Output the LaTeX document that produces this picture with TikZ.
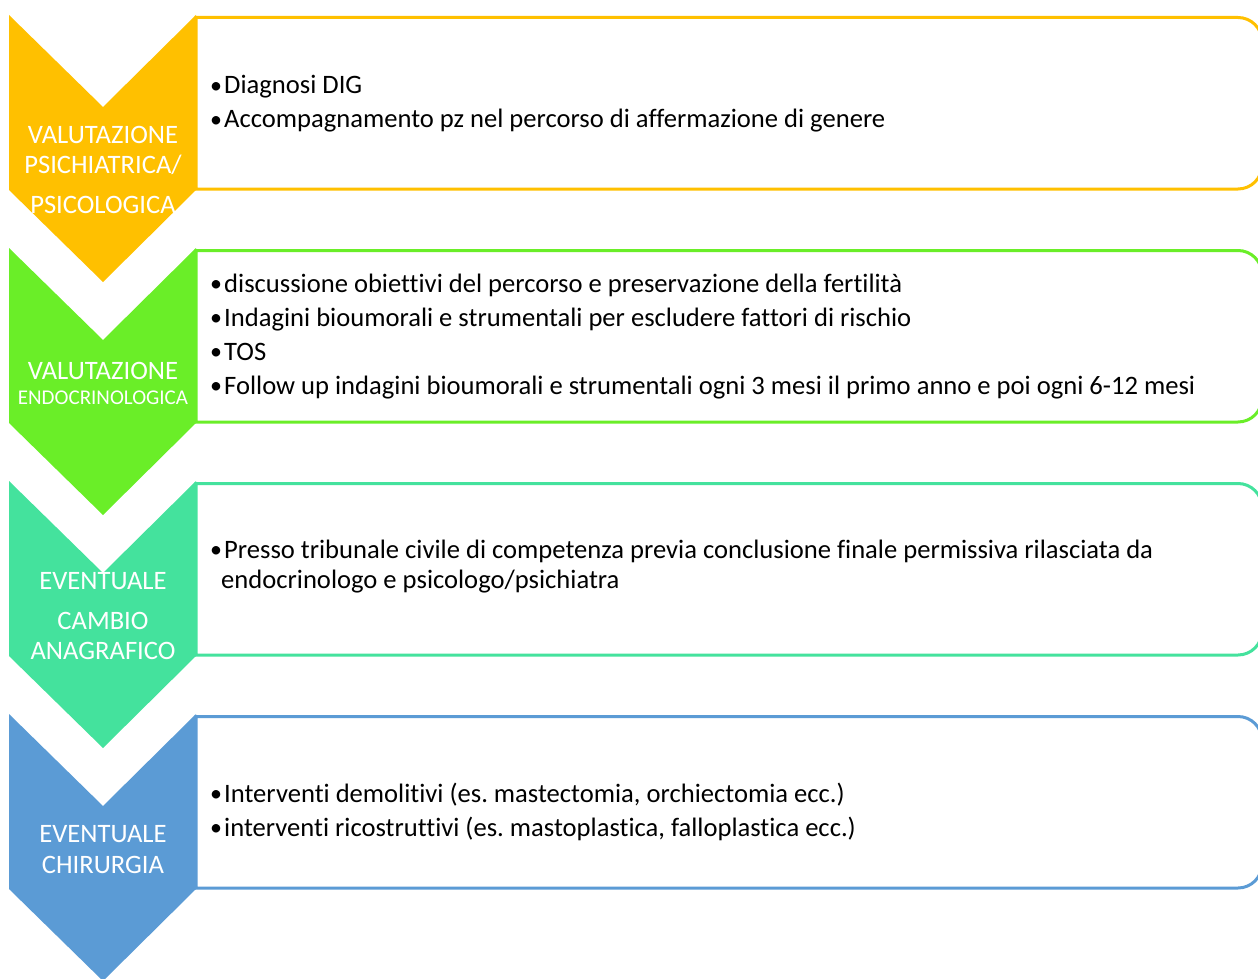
\documentclass[tikz,border=0pt]{standalone}
\usepackage{fontspec}
\setmainfont{Carlito}[Ligatures={NoCommon}]
\definecolor{corange}{HTML}{FFC000}
\definecolor{cgreen}{HTML}{6AEE28}
\definecolor{cteal}{HTML}{44E29D}
\definecolor{cblue}{HTML}{5B9BD5}
\newcommand{\bul}{\makebox[14pt][l]{\raisebox{0.5pt}{\fontsize{24}{28}\selectfont •}}}
\frenchspacing
\tikzset{
  txt/.style={anchor=base west, inner sep=0pt, text=black, font=\fontsize{26.6}{32}\selectfont},
  lbl/.style={anchor=base, inner sep=0pt, text=white, font=\fontsize{26.6}{32}\selectfont},
  lblsmall/.style={anchor=base, inner sep=0pt, text=white, font=\fontsize{21}{26}\selectfont},
  boxline/.style={line width=3pt},
}
\begin{document}
\begin{tikzpicture}[x=1pt,y=-1pt]
\useasboundingbox (0,0) rectangle (1258,979);
\clip (0,0) rectangle (1258,979);
% boxes
\foreach \yy/\cc in {15/corange,248/cgreen,481/cteal,714/cblue}{
  \draw[boxline,draw=\cc,fill=white] (196,\yy+2.5) -- (1238,\yy+2.5)
     arc[start angle=-90,end angle=0,radius=24] -- (1262,\yy+150)
     arc[start angle=0,end angle=90,radius=24] -- (196,\yy+174) -- cycle;
}
% chevrons
\foreach \yy/\cc in {15/corange,248/cgreen,481/cteal,714/cblue}{
  \fill[\cc] (9,\yy) -- (103,\yy+92) -- (196,\yy) -- (196,\yy+175) -- (103,\yy+267) -- (9,\yy+175) -- cycle;
}
% chevron labels
\node[lbl] (c1a) at (103,143) {VALUTAZIONE};
\node[lbl] (c1b) at (103,173) {PSICHIATRICA/};
\node[lbl] (c1c) at (103,213) {PSICOLOGICA};
\node[lbl] (c2a) at (103,379) {VALUTAZIONE};
\node[lblsmall] (c2b) at (103,404) {ENDOCRINOLOGICA};
\node[lbl] (c3a) at (103,589) {EVENTUALE};
\node[lbl] (c3b) at (103,629) {CAMBIO};
\node[lbl] (c3c) at (103,659) {ANAGRAFICO};
\node[lbl] (c4a) at (103,842) {EVENTUALE};
\node[lbl] (c4b) at (103,873) {CHIRURGIA};
% box texts
\node[txt] (t1a) at (210,94) {\bul Diagnosi DIG};
\node[txt] (t1b) at (210,128) {\bul Accompagnamento pz nel percorso di affermazione di genere};
\node[txt] (t2a) at (210,292) {\bul discussione obiettivi del percorso e preservazione della fertilità};
\node[txt] (t2b) at (210,326) {\bul Indagini bioumorali e strumentali per escludere fattori di rischio};
\node[txt] (t2c) at (210,360) {\bul TOS};
\node[txt] (t2d) at (210,394) {\bul Follow up indagini bioumorali e strumentali ogni 3 mesi il primo anno e poi ogni 6-12 mesi};
\node[txt] (t3a) at (210,558) {\bul Presso tribunale civile di competenza previa conclusione finale permissiva rilasciata da};
\node[txt] (t3b) at (221,588) {endocrinologo e psicologo/psichiatra};
\node[txt] (t4a) at (210,802) {\bul Interventi demolitivi (es. mastectomia, orchiectomia ecc.)};
\node[txt] (t4b) at (210,836) {\bul interventi ricostruttivi (es. mastoplastica, falloplastica ecc.)};
\end{tikzpicture}
\end{document}
